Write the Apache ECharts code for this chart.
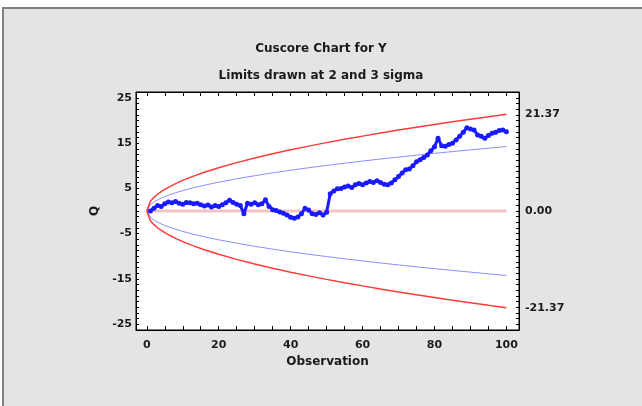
<!DOCTYPE html>
<html>
<head>
<meta charset="utf-8">
<script src="https://cdn.jsdelivr.net/npm/echarts@6/dist/echarts.min.js"></script>
<style>html,body{margin:0;padding:0;background:#fff;overflow:hidden}#c{width:642px;height:406px}</style>
</head>
<body>
<div id="c"></div>
<script>
const observations = [];
for (let i = 1; i <= 100; i++) observations.push(i);
const cuscore = [
  0.0, 0.6, 1.2, 1.0, 1.6, 2.0, 1.8, 2.1, 1.7, 1.5,
  1.9, 1.8, 1.6, 1.7, 1.4, 1.1, 1.3, 0.9, 1.2, 1.0,
  1.4, 1.8, 2.4, 1.9, 1.5, 1.2, -0.6, 1.7, 1.5, 1.8,
  1.4, 1.6, 2.5, 1.0, 0.3, 0.1, -0.2, -0.5, -0.9, -1.4,
  -1.6, -1.3, -0.6, 0.6, 0.2, -0.6, -0.8, -0.4, -0.9, -0.3,
  3.8, 4.4, 4.9, 5.0, 5.3, 5.5, 5.2, 5.8, 6.1, 5.8,
  6.2, 6.5, 6.3, 6.7, 6.3, 5.9, 5.8, 6.2, 6.9, 7.6,
  8.4, 9.1, 9.3, 10.0, 10.9, 11.3, 11.8, 12.4, 13.3, 14.2,
  16.1, 14.4, 14.3, 14.7, 15.0, 15.7, 16.5, 17.4, 18.4, 18.1,
  17.9, 16.8, 16.5, 16.1, 16.7, 17.2, 17.4, 17.8, 17.9, 17.5
];
// Control limits
const limitObs = [0, 1, 2, 3, 4, 5, 6, 8, 10, 13, 16, 20, 25, 30, 35, 40, 45, 50, 55, 60, 65, 70, 75, 80, 85, 90, 95, 100];
const ucl3 = [0, 2.14, 3.02, 3.70, 4.27, 4.78, 5.23, 6.04, 6.76, 7.71, 8.55, 9.56, 10.69, 11.70, 12.64, 13.52, 14.34, 15.11, 15.85, 16.55, 17.23, 17.88, 18.51, 19.11, 19.70, 20.27, 20.83, 21.37];
const lcl3 = [0, -2.14, -3.02, -3.70, -4.27, -4.78, -5.23, -6.04, -6.76, -7.71, -8.55, -9.56, -10.69, -11.70, -12.64, -13.52, -14.34, -15.11, -15.85, -16.55, -17.23, -17.88, -18.51, -19.11, -19.70, -20.27, -20.83, -21.37];
const ucl2 = [0, 1.42, 2.01, 2.47, 2.85, 3.19, 3.49, 4.03, 4.51, 5.14, 5.70, 6.37, 7.12, 7.80, 8.43, 9.01, 9.56, 10.07, 10.57, 11.03, 11.49, 11.92, 12.34, 12.74, 13.13, 13.51, 13.88, 14.25];
const lcl2 = [0, -1.42, -2.01, -2.47, -2.85, -3.19, -3.49, -4.03, -4.51, -5.14, -5.70, -6.37, -7.12, -7.80, -8.43, -9.01, -9.56, -10.07, -10.57, -11.03, -11.49, -11.92, -12.34, -12.74, -13.13, -13.51, -13.88, -14.25];
const centerObs = [1, 100];
const centerVal = [0, 0];
// Tick labels
const xTickLabels = [0, 20, 40, 60, 80, 100];
const yTickLabels = [-25, -15, -5, 5, 15, 25];
const rightTickLabels = [-21.37, 0, 21.37];

const xTicks = []; for (let v = 0; v <= 100; v += 5) xTicks.push(v);
const yTicks = []; for (let v = -25; v <= 25.001; v += 1.25) yTicks.push(+v.toFixed(2));

const pairs = (xs, ys) => xs.map((x, i) => [x, ys[i]]);
const FF = 'DejaVu Sans, Verdana, sans-serif';
const font = { fontFamily: FF, fontWeight: 'bold', fontSize: 11, color: '#1a1a1a' };
const YMIN = -26.3, YMAX = 26.3, XMIN = -3, XMAX = 103.5;

const chart = echarts.init(document.getElementById('c'), null, { renderer: 'canvas' });
chart.setOption({
  backgroundColor: '#fff',
  animation: false,
  graphic: [{
    type: 'rect', z: -100, silent: true,
    shape: { x: 3, y: 8, width: 900, height: 600 },
    style: { fill: '#e4e4e4', stroke: '#808080', lineWidth: 2 }
  }],
  title: [
    { text: 'Cuscore Chart for Y', left: 'center', top: 38, textStyle: Object.assign({}, font, { fontSize: 12 }) },
    { text: 'Limits drawn at 2 and 3 sigma', left: 'center', top: 65, textStyle: Object.assign({}, font, { fontSize: 12 }) }
  ],
  grid: { left: 136, top: 92, width: 383, height: 238, show: true, backgroundColor: '#fff', borderColor: '#000', borderWidth: 1 },
  xAxis: [
    { type: 'value', position: 'bottom', min: XMIN, max: XMAX,
      axisLine: { onZero: false, lineStyle: { color: '#000' } },
      axisTick: { show: true, inside: true, length: 4, customValues: xTicks, lineStyle: { color: '#000', width: 1 } },
      axisLabel: Object.assign({ customValues: xTickLabels, margin: 10 }, font),
      splitLine: { show: false },
      name: 'Observation', nameLocation: 'middle', nameGap: 24, nameTextStyle: Object.assign({}, font, { fontSize: 12 }) },
    { type: 'value', position: 'top', min: XMIN, max: XMAX,
      axisLine: { onZero: false, lineStyle: { color: '#000' } },
      axisTick: { show: true, inside: true, length: 4, customValues: xTicks, lineStyle: { color: '#000', width: 1 } },
      axisLabel: { show: false }, splitLine: { show: false } }
  ],
  yAxis: [
    { type: 'value', position: 'left', min: YMIN, max: YMAX,
      axisLine: { show: true, onZero: false, lineStyle: { color: '#000' } },
      axisTick: { show: true, inside: true, length: 3, customValues: yTicks, lineStyle: { color: '#000', width: 1 } },
      axisLabel: Object.assign({ customValues: yTickLabels, margin: 4 }, font),
      splitLine: { show: false },
      name: 'Q', nameLocation: 'middle', nameGap: 30, nameRotate: 90, nameTextStyle: Object.assign({}, font, { fontSize: 12 }) },
    { type: 'value', position: 'right', min: YMIN, max: YMAX,
      axisLine: { show: true, onZero: false, lineStyle: { color: '#000' } },
      axisTick: { show: true, inside: true, length: 3, customValues: yTicks, lineStyle: { color: '#000', width: 1 } },
      axisLabel: Object.assign({ customValues: rightTickLabels, margin: 6, formatter: v => v.toFixed(2) }, font),
      splitLine: { show: false } }
  ],
  series: [
    { type: 'line', data: pairs(centerObs, centerVal), symbol: 'none', lineStyle: { color: '#f0c4c4', width: 3 }, z: 2 },
    { type: 'line', data: pairs(limitObs, ucl2), symbol: 'none', lineStyle: { color: '#8c8cff', width: 1 }, z: 3 },
    { type: 'line', data: pairs(limitObs, lcl2), symbol: 'none', lineStyle: { color: '#8c8cff', width: 1 }, z: 3 },
    { type: 'line', data: pairs(limitObs, ucl3), symbol: 'none', lineStyle: { color: '#ff3a3a', width: 1.5 }, z: 3 },
    { type: 'line', data: pairs(limitObs, lcl3), symbol: 'none', lineStyle: { color: '#ff3a3a', width: 1.5 }, z: 3 },
    { type: 'line', data: pairs(observations, cuscore), symbol: 'circle', symbolSize: 5, showSymbol: true,
      itemStyle: { color: '#1a1aff', borderWidth: 0 }, lineStyle: { color: '#1a1aff', width: 3 }, z: 4 }
  ]
});
</script>
</body>
</html>
